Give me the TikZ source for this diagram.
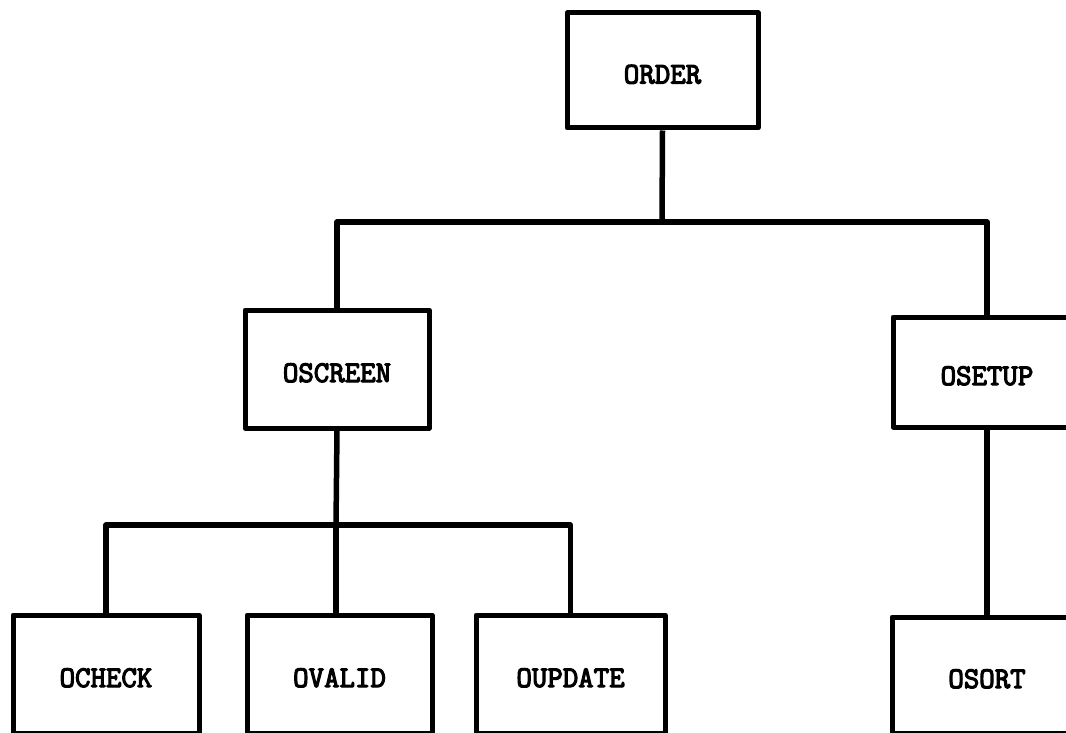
\documentclass[tikz,border=0pt]{standalone}
\usepackage{fontspec}
\newfontfamily\boxfont[FakeBold=4]{Latin Modern Mono}
\begin{document}
\begin{tikzpicture}[x=1pt,y=-1pt,
  modbox/.style={draw, line width=5pt, line join=round, rectangle, inner sep=0pt,
    text height=26pt, text depth=0pt,
    font=\boxfont\fontsize{30}{32}\selectfont},
  link/.style={line width=5.5pt, line join=round}]
\clip (0,0) rectangle (1066,733);
\fill[white] (0,0) rectangle (1066,733);
% boxes
\node[modbox, minimum width=191pt, minimum height=115pt] (order) at (662.5,70.5) {ORDER};
\node[modbox, minimum width=184pt, minimum height=118pt] (oscreen) at (337,369) {OSCREEN};
\node[modbox, minimum width=188pt, minimum height=110pt] (osetup) at (987,372) {OSETUP};
\node[modbox, minimum width=186pt, minimum height=118pt] (ocheck) at (106,674) {OCHECK};
\node[modbox, minimum width=185pt, minimum height=118pt] (ovalid) at (339.5,674) {OVALID};
\node[modbox, minimum width=189pt, minimum height=118pt] (oupdate) at (570.5,674) {OUPDATE};
\node[modbox, minimum width=190pt, minimum height=116pt] (osort) at (987,675) {OSORT};
% junctions
\coordinate (j1) at (662,222);
\coordinate (j2) at (336,525);
% connectors
\draw[link] (order.south) -- (j1);
\draw[link] (oscreen.north) |- (j1) -| (osetup.north);
\draw[link] (oscreen.south) -- (j2);
\draw[link] (ocheck.north) |- (j2) -| (oupdate.north);
\draw[link] (j2) -- (j2 |- ovalid.north);
\draw[link] (osetup.south) -- (osort.north);
\end{tikzpicture}
\end{document}
